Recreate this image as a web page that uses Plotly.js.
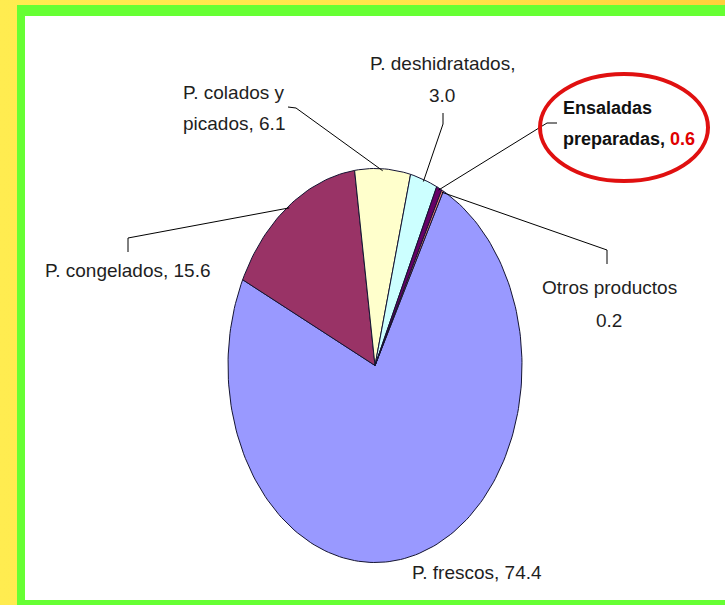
<!DOCTYPE html>
<html>
<head>
<meta charset="utf-8">
<script src="https://cdn.plot.ly/plotly-3.0.1.min.js"></script>
<style>
  html, body { margin: 0; padding: 0; }
  body { width: 725px; height: 605px; overflow: hidden;
         background: linear-gradient(to right, #FFEC50 0%, #FFE548 60%, #FFD03A 100%); }
  #chart { width: 725px; height: 605px; }
</style>
</head>
<body>
<div id="chart"></div>
<script>
// ---- data ----
const categories = ['P. frescos', 'P. congelados', 'P. colados y picados', 'P. deshidratados', 'Ensaladas preparadas', 'Otros productos'];
const values = [74.4, 15.6, 6.1, 3.0, 0.6, 0.2];
const sliceColors = ['#9999FF', '#993366', '#FFFFCC', '#CCFFFF', '#660066', '#FF8080'];
const labelLines = [
  ['P. frescos, 74.4'],
  ['P. congelados, 15.6'],
  ['P. colados y', 'picados, 6.1'],
  ['P. deshidratados,', '3.0'],
  ['<b>Ensaladas</b>', '<b>preparadas, <span style="color:#E00000">0.6</span></b>'],
  ['Otros productos', '0.2']
];

// ---- geometry (page pixels) ----
const W = 725, H = 605;
const cx = 375, cy = 365.5, rx = 147, ry = 197;
const startAngle = 27.7; // degrees clockwise from 12 o'clock where first slice begins
const px2x = p => (p - cx) / rx;
const py2y = p => (cy - p) / ry;

const total = values.reduce((a, b) => a + b, 0);
const traces = [];
const mids = [];
let acc = startAngle;
values.forEach((v, i) => {
  const span = v / total * 360;
  const a0 = acc, a1 = acc + span;
  const n = Math.max(4, Math.ceil(span / 1.5));
  const xs = [0], ys = [0];
  for (let k = 0; k <= n; k++) {
    const t = (a0 + (a1 - a0) * k / n) * Math.PI / 180;
    xs.push(Math.sin(t)); ys.push(Math.cos(t));
  }
  xs.push(0); ys.push(0);
  traces.push({
    type: 'scatter', mode: 'lines', x: xs, y: ys, fill: 'toself',
    fillcolor: sliceColors[i], line: { color: '#141432', width: 1 },
    hoverinfo: 'skip', showlegend: false, name: categories[i]
  });
  mids.push((a0 + a1) / 2);
  acc = a1;
});
const edge = i => {
  const t = mids[i] * Math.PI / 180;
  return [Math.sin(t), Math.cos(t)];
};

// leader lines: label anchor (pixels) -> elbow (pixels) -> slice edge (data)
const leaders = [
  { i: 1, pts: [[128, 252], [128, 238]] },
  { i: 2, pts: [[288, 107], [296, 108]] },
  { i: 3, pts: [[443, 113], [443, 124]] },
  { i: 4, pts: [[557, 123], [547, 123]] },
  { i: 5, pts: [[607, 264], [607, 250]] }
];
leaders.forEach(l => {
  const xs = l.pts.map(p => px2x(p[0]));
  const ys = l.pts.map(p => py2y(p[1]));
  const e = edge(l.i);
  xs.push(e[0] * 0.99); ys.push(e[1] * 0.99);
  traces.push({ type: 'scatter', mode: 'lines', x: xs, y: ys,
    line: { color: '#000000', width: 1 }, hoverinfo: 'skip', showlegend: false });
});

const font = { family: '"Liberation Sans", Arial, sans-serif', size: 19, color: '#1e1e1e' };
const boldFont = { family: '"Liberation Sans", Arial, sans-serif', size: 18, color: '#111111' };
// label line centres (pixels)
const labelPos = [
  { x: 477, ys: [572], xa: 'center' },
  { x: 128, ys: [270], xa: 'center' },
  { x: 234, ys: [92, 123], xa: 'center' },
  { x: 442, ys: [63, 95], xa: 'center' },
  { x: 561, ys: [108, 139], xa: 'left' },
  { x: 609, ys: [287, 320], xa: 'center' }
];
const annotations = [];
labelLines.forEach((lines, i) => {
  lines.forEach((t, j) => {
    annotations.push({
      text: t, xref: 'x', yref: 'y', x: px2x(labelPos[i].x), y: py2y(labelPos[i].ys[j]),
      xanchor: labelPos[i].xa, yanchor: 'middle', align: labelPos[i].xa,
      showarrow: false, font: i === 4 ? boldFont : font
    });
  });
});

const shapes = [
  { type: 'rect', xref: 'paper', yref: 'paper', x0: 17 / W, x1: 1.1, y0: -0.05, y1: 1 - 5 / H,
    fillcolor: '#66FF33', line: { width: 0 }, layer: 'below' },
  { type: 'rect', xref: 'paper', yref: 'paper', x0: 25 / W, x1: 1.1, y0: 5 / H, y1: 1 - 16 / H,
    fillcolor: '#FFFFFF', line: { width: 0 }, layer: 'below' },
  { type: 'circle', xref: 'paper', yref: 'paper', x0: 540 / W, x1: 708 / W, y0: 1 - 181 / H, y1: 1 - 74 / H,
    fillcolor: 'rgba(0,0,0,0)', line: { color: '#E01010', width: 4 } }
];

const layout = {
  width: W, height: H,
  margin: { l: 0, r: 0, t: 0, b: 0 },
  paper_bgcolor: 'rgba(0,0,0,0)', plot_bgcolor: 'rgba(0,0,0,0)',
  xaxis: { range: [px2x(0), px2x(W)], visible: false, fixedrange: true },
  yaxis: { range: [py2y(H), py2y(0)], visible: false, fixedrange: true },
  showlegend: false, hovermode: false,
  annotations: annotations, shapes: shapes
};
Plotly.newPlot('chart', traces, layout, { displayModeBar: false, staticPlot: true });
</script>
</body>
</html>
